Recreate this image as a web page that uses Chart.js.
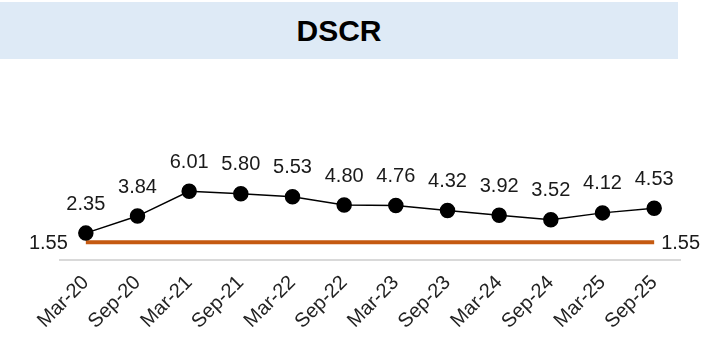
<!DOCTYPE html>
<html>
<head>
<meta charset="utf-8">
<script src="https://cdn.jsdelivr.net/npm/chart.js@4"></script>
<style>
  html, body { margin: 0; padding: 0; background: #fff; }
  #wrap { position: relative; width: 705px; height: 339px; }
  #title {
    position: absolute; left: 0; top: 2px; width: 678px; height: 57px;
    background: #DEEAF6; color: #000;
    font: bold 30px "Liberation Sans", Arial, sans-serif;
    display: flex; align-items: center; justify-content: center;
  }
  #chart { position: absolute; left: 0; top: 0; }
</style>
</head>
<body>
<div id="wrap">
  <canvas id="chart" width="705" height="339"></canvas>
  <div id="title">DSCR</div>
</div>
<script>
// DSCR chart data
const periods = ["Mar-20", "Sep-20", "Mar-21", "Sep-21", "Mar-22", "Sep-22",
                 "Mar-23", "Sep-23", "Mar-24", "Sep-24", "Mar-25", "Sep-25"];
const dscrValues = [2.35, 3.84, 6.01, 5.80, 5.53, 4.80, 4.76, 4.32, 3.92, 3.52, 4.12, 4.53];
const covenantLevel = 1.55;
const covenantValues = periods.map(() => covenantLevel);

const FONT = "Liberation Sans, Arial, sans-serif";

// Draws value labels above the points and the covenant labels at both ends
const labelPlugin = {
  id: "valueLabels",
  afterDatasetsDraw(chart) {
    const ctx = chart.ctx;
    ctx.save();
    ctx.font = "20px " + FONT;
    ctx.fillStyle = "#1a1a1a";
    ctx.textBaseline = "middle";

    // DSCR point labels
    ctx.textAlign = "center";
    chart.getDatasetMeta(0).data.forEach((pt, i) => {
      ctx.fillText(dscrValues[i].toFixed(2), pt.x, pt.y - 29);
    });

    // covenant line labels
    const cov = chart.getDatasetMeta(1).data;
    const first = cov[0];
    const last = cov[cov.length - 1];
    ctx.textAlign = "right";
    ctx.fillText(covenantLevel.toFixed(2), first.x - 18, first.y + 1);
    ctx.textAlign = "left";
    ctx.fillText(covenantLevel.toFixed(2), last.x + 7, last.y + 1);
    ctx.restore();
  }
};

new Chart(document.getElementById("chart"), {
  type: "line",
  data: {
    labels: periods,
    datasets: [
      {
        data: dscrValues,
        borderColor: "#000",
        borderWidth: 1.5,
        pointBackgroundColor: "#000",
        pointBorderColor: "#000",
        pointRadius: 7,
        tension: 0
      },
      {
        data: covenantValues,
        borderColor: "#C55A11",
        borderWidth: 4,
        pointRadius: 0,
        tension: 0
      }
    ]
  },
  options: {
    responsive: false,
    animation: false,
    layout: { padding: { top: 77, left: 60, right: 25, bottom: 0 } },
    plugins: {
      legend: { display: false },
      tooltip: { enabled: false },
      title: { display: false }
    },
    scales: {
      x: {
        offset: true,
        grid: { display: false, drawTicks: false },
        border: { display: true, color: "#D9D9D9", width: 2 },
        ticks: {
          minRotation: 45,
          maxRotation: 45,
          padding: 11,
          color: "#222",
          font: { family: FONT, size: 20 }
        },
        afterFit(scale) {
          scale.height = 79;
        }
      },
      y: {
        display: false,
        min: 0,
        max: 16
      }
    }
  },
  plugins: [labelPlugin]
});
</script>
</body>
</html>
